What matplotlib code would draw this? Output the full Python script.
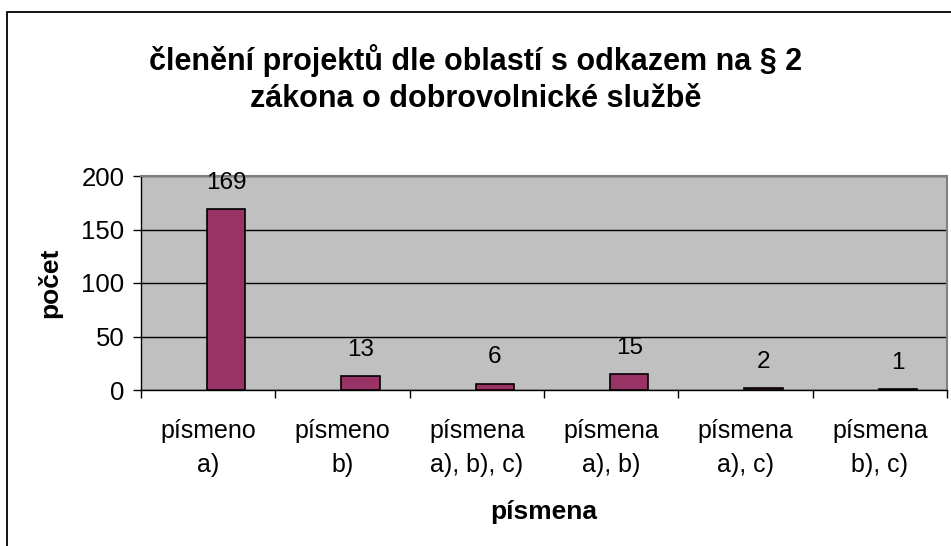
import matplotlib
matplotlib.use('Agg')
import matplotlib.pyplot as plt
import numpy as np
from matplotlib.patches import Rectangle

plt.rcParams['font.family'] = ['Liberation Sans', 'DejaVu Sans']

kategorie = ['písmeno\na)', 'písmeno\nb)', 'písmena\na), b), c)', 'písmena\na), b)',
             'písmena\na), c)', 'písmena\nb), c)']
pocty = [169, 13, 6, 15, 2, 1]
y_ticks = [0, 50, 100, 150, 200]

fig = plt.figure(figsize=(9.51, 5.46), dpi=100)
fig.patches.append(Rectangle((7/951, -0.1), 1.2, 1 - 12/546 + 0.1, transform=fig.transFigure,
                             fill=False, edgecolor='black', linewidth=1.3))

ax = fig.add_axes([141/951, 1 - 390/546, (947-141)/951, (390-176)/546])
ax.set_facecolor('#C0C0C0')

x = np.arange(len(pocty))
ax.bar(x + 0.135, pocty, width=0.285, color='#993366', edgecolor='black', linewidth=1.2, zorder=3)
for xi, v in zip(x, pocty):
    ax.annotate(str(v), (xi + 0.135, v), xytext=(0, 11), textcoords='offset points',
                ha='center', va='bottom', fontsize=17.5)

ax.set_xlim(-0.5, len(pocty) - 0.5)
ax.set_ylim(0, 200)
ax.set_yticks(y_ticks)
ax.tick_params(axis='y', labelsize=18.5, length=6, width=1, pad=6)
ax.set_xticks(np.arange(len(pocty) + 1) - 0.5)
ax.set_xticklabels([])
ax.tick_params(axis='x', which='major', length=6, width=1)
ax.set_xticks(x, minor=True)
ax.set_xticklabels(kategorie, minor=True, fontsize=18, linespacing=1.5)
ax.tick_params(axis='x', which='minor', length=0, pad=21)

ax.grid(axis='y', color='black', linewidth=1, zorder=1)
ax.set_axisbelow(True)
for s in ['top', 'right']:
    ax.spines[s].set_color('#808080')
    ax.spines[s].set_linewidth(1.5)
ax.spines['left'].set_linewidth(1)
ax.spines['bottom'].set_linewidth(1)

ax.set_ylabel('počet', fontsize=19, fontweight='bold', labelpad=14)
ax.set_xlabel('písmena', fontsize=19, fontweight='bold', labelpad=17)

fig.text(0.5, 1 - 79/546, 'členění projektů dle oblastí s odkazem na § 2\nzákona o dobrovolnické službě',
         ha='center', va='center', fontsize=22, fontweight='bold', linespacing=1.3)

fig.savefig('out.png', dpi=100)
